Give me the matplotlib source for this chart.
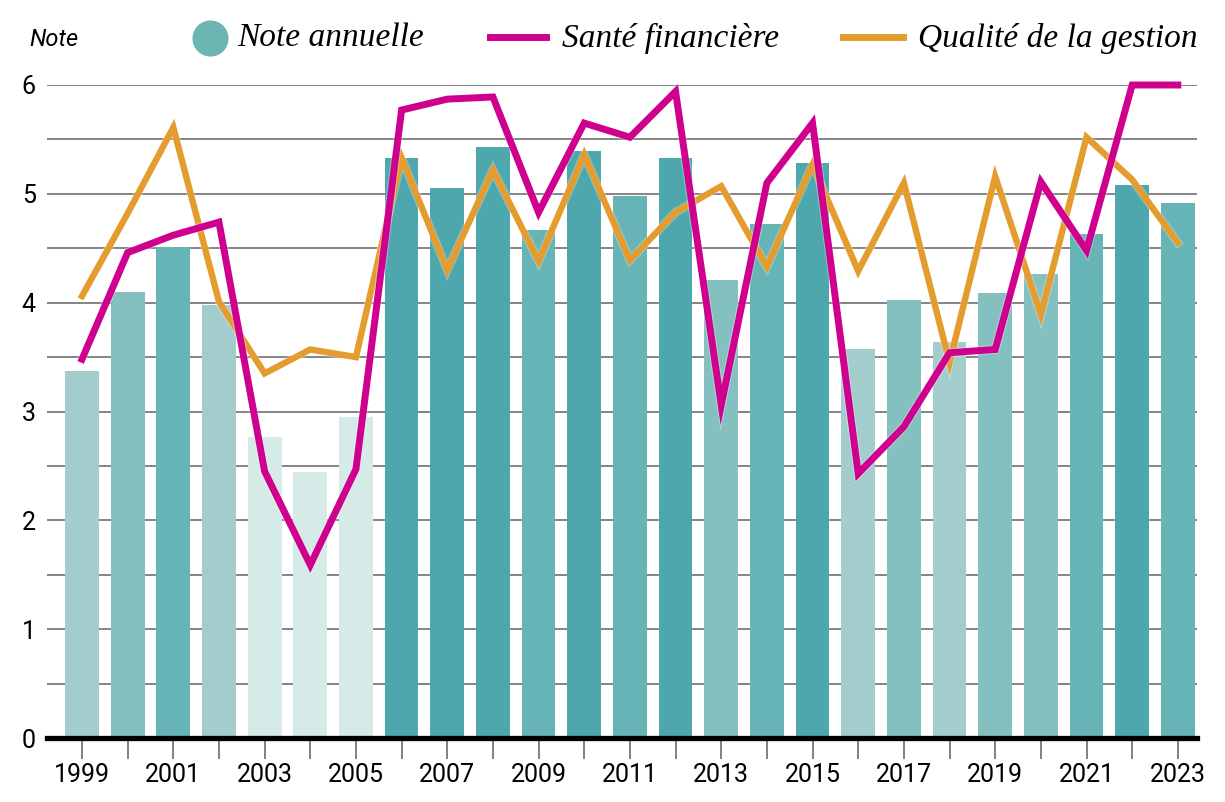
import matplotlib
matplotlib.use('Agg')
import matplotlib.pyplot as plt
import matplotlib.patheffects as pe
from matplotlib.colors import ListedColormap, BoundaryNorm
from matplotlib.lines import Line2D
import numpy as np

years = list(range(1999, 2024))
note_annuelle = [3.37, 4.10, 4.51, 3.98, 2.77, 2.44, 2.95, 5.33, 5.05, 5.43, 4.67, 5.39, 4.98,
                 5.33, 4.21, 4.72, 5.28, 3.57, 4.02, 3.64, 4.09, 4.26, 4.63, 5.08, 4.92]
sante_financiere = [3.48, 4.46, 4.62, 4.74, 2.45, 1.59, 2.47, 5.77, 5.87, 5.89, 4.83, 5.65, 5.52,
                    5.94, 3.06, 5.10, 5.65, 2.43, 2.86, 3.54, 3.57, 5.11, 4.48, 6.0, 6.0]
qualite_gestion = [4.06, 4.82, 5.61, 4.01, 3.35, 3.57, 3.50, 5.33, 4.30, 5.22, 4.38, 5.36, 4.39,
                   4.83, 5.07, 4.33, 5.27, 4.29, 5.10, 3.45, 5.16, 3.89, 5.52, 5.13, 4.55]
yticks = [0, 1, 2, 3, 4, 5, 6]

MAGENTA = '#d0008f'
ORANGE = '#e49c2e'
cmap = ListedColormap(['#d6eae8', '#a3cdcd', '#85c0c1', '#67b4b6', '#4fa7ae'])
norm = BoundaryNorm([0, 3, 4, 4.5, 5, 7], cmap.N)

fig = plt.figure(figsize=(12.25, 8.02), dpi=100)
ax = fig.add_axes([47/1225, 1 - 738/802, (1197-47)/1225, (738-85)/802])

for g in np.arange(0.5, 6.01, 0.5):
    ax.axhline(g, color='#707070', lw=1.2, zorder=0)

ax.bar(years, note_annuelle, width=0.74, color=cmap(norm(note_annuelle)), zorder=1)

halo = [pe.Stroke(linewidth=6.2, foreground='white', alpha=0.3), pe.Normal()]
ax.plot(years, qualite_gestion, color=ORANGE, lw=4.6, zorder=3, clip_on=False,
        solid_joinstyle='miter', path_effects=halo)
halo2 = [pe.Stroke(linewidth=6.6, foreground='white', alpha=0.3), pe.Normal()]
ax.plot(years, sante_financiere, color=MAGENTA, lw=5.0, zorder=4, clip_on=False,
        solid_joinstyle='miter', path_effects=halo2)

ax.axhline(0, color='black', lw=3.8, zorder=5, clip_on=False)

ax.set_xlim(1998.234, 2023.42)
ax.set_ylim(0, 6)
for s in ax.spines.values():
    s.set_visible(False)

ax.set_yticks(yticks)
ax.set_yticklabels([str(t) for t in yticks], fontsize=18, family='Roboto')
ax.tick_params(axis='y', length=0, pad=8)
ax.set_xticks(years)
ax.set_xticklabels([str(y) if y % 2 == 1 else '' for y in years], fontsize=18, family='Roboto')
ax.tick_params(axis='x', length=15, width=1.3, color='#777777', pad=3, direction='out')

# legend drawn by hand at the top
lfont = dict(family='Liberation Serif', style='italic', fontsize=24, va='center')
fig.text(29/1225, 1 - 40/802, 'Note', family='Roboto', style='italic',
         fontsize=17, va='center')
fig.add_artist(Line2D([210/1225], [1 - 38/802], marker='o', markersize=25,
                      color='#6bb5b2', transform=fig.transFigure))
fig.text(237/1225, 1 - 38/802, 'Note annuelle', **lfont)
fig.add_artist(Line2D([490/1225, 546/1225], [1 - 37/802] * 2, color=MAGENTA, lw=5,
                      transform=fig.transFigure))
fig.text(562/1225, 1 - 38/802, 'Santé financière', **lfont)
fig.add_artist(Line2D([843/1225, 903/1225], [1 - 37/802] * 2, color=ORANGE, lw=5,
                      transform=fig.transFigure))
fig.text(918/1225, 1 - 38/802, 'Qualité de la gestion', **lfont)

fig.savefig('out.png', dpi=100)
